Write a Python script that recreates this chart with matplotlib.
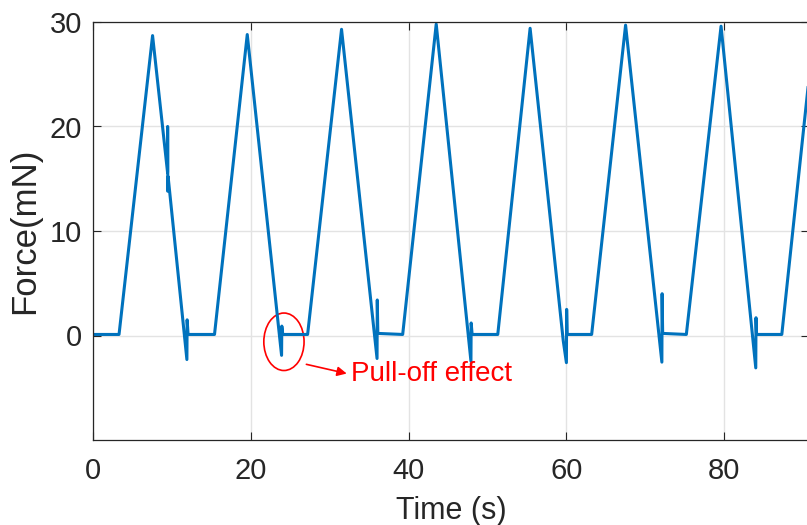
import matplotlib
matplotlib.use("Agg")
import matplotlib.pyplot as plt
from matplotlib.patches import Ellipse

plt.rcParams["font.family"] = ["Liberation Sans", "DejaVu Sans"]

# force trace (keypoints: ramps, pull-off dips, spikes)
time_s = [0.0, 3.3, 7.55, 9.45, 9.46, 9.48, 9.52, 11.9, 11.93, 12.05, 15.4,
          19.55, 23.9, 23.93, 24.05, 27.2,
          31.5, 36.0, 36.03, 36.1, 39.25,
          43.5, 47.9, 47.93, 48.05, 51.3,
          55.4, 59.6, 60.0, 60.03, 60.1, 63.2,
          67.5, 72.1, 72.13, 72.2, 75.2,
          79.6, 84.0, 84.03, 84.1, 87.3, 90.8]
force_mn = [0.1, 0.1, 28.7, 15.6, 20.0, 13.8, 15.2, -2.3, 1.5, 0.1, 0.1,
            28.8, -1.9, 0.9, 0.1, 0.1,
            29.3, -2.2, 3.4, 0.2, 0.1,
            29.8, -2.45, 1.2, 0.1, 0.1,
            29.4, -0.5, -2.6, 2.5, 0.1, 0.1,
            29.7, -2.55, 4.0, 0.2, 0.1,
            29.6, -3.1, 1.7, 0.1, 0.1, 25.0]

x_ticks = [0, 20, 40, 60, 80]
y_ticks = [0, 10, 20, 30]

fig = plt.figure(figsize=(8.07, 5.25), dpi=100)
ax = fig.add_axes([93 / 807, 1 - 440 / 525, 1.003 - 93 / 807, 418 / 525])

ax.plot(time_s, force_mn, color="#0072BD", linewidth=2.2)

ax.set_xlim(0, 90.8)
ax.set_ylim(-10, 30)
ax.set_xticks(x_ticks)
ax.set_yticks(y_ticks)
ax.grid(True, color="#e3e3e3", linewidth=1.0)
ax.set_axisbelow(True)
ax.tick_params(direction="in", length=6, width=0.8, colors="#262626",
               labelsize=21, top=True, right=True)
ax.tick_params(axis="x", pad=12)
ax.tick_params(axis="y", pad=8)
for s in ax.spines.values():
    s.set_color("#262626")
    s.set_linewidth(0.9)

ax.set_xlabel("Time (s)", fontsize=22, color="#262626", labelpad=8)
ax.set_ylabel("Force(mN)", fontsize=25, color="#262626", labelpad=6)

# pull-off annotation
ax.add_patch(Ellipse((24.2, -0.6), 5.1, 5.5, fill=False,
                     edgecolor="red", linewidth=1.2))
ax.annotate("", xy=(32.5, -3.7), xytext=(26.7, -2.7),
            arrowprops=dict(arrowstyle="-|>", color="red", lw=1.2,
                            mutation_scale=14))
ax.text(32.7, -3.7, "Pull-off effect", color="red", fontsize=20,
        ha="left", va="center")

fig.savefig("out.png", dpi=100)
